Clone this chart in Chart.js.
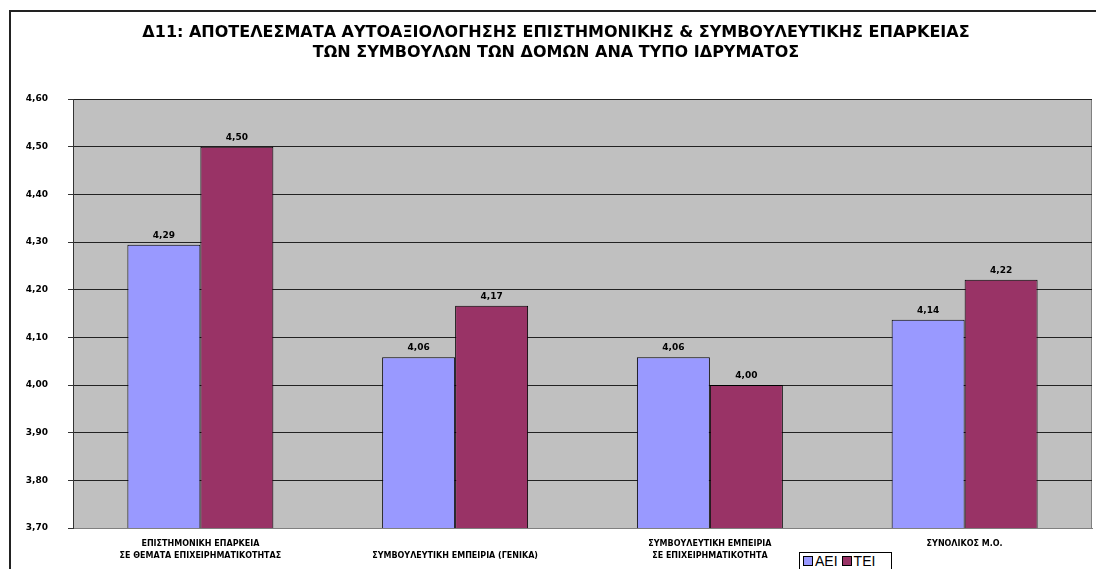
<!DOCTYPE html>
<html>
<head>
<meta charset="utf-8">
<script src="https://cdn.jsdelivr.net/npm/chart.js@4/dist/chart.umd.min.js"></script>
<style>
  html, body { margin: 0; padding: 0; background: #fff; overflow: hidden; }
  #wrap { position: relative; width: 1096px; height: 569px; overflow: hidden; }
  #frame { position: absolute; left: 9px; top: 10px; width: 1200px; height: 700px; border: 2px solid #222; box-sizing: border-box; }
  #chart { position: absolute; left: 20px; top: 0; }
  #legend { position: absolute; left: 799px; top: 552px; width: 93px; height: 30px; border: 1px solid #000; background: #fff;
            font-family: "Liberation Sans", Arial, sans-serif; font-size: 14px; box-sizing: border-box; padding: 0 0 0 3px; }
  #legend span.sw { display: inline-block; width: 8px; height: 8px; border: 1px solid #000; margin-right: 2px; }
  #legend span.item { margin-right: 4px; }
</style>
</head>
<body>
<div id="wrap">
  <div id="frame"></div>
  <canvas id="chart" width="1076" height="569"></canvas>
  <div id="legend"></div>
</div>
<script>
var categories = [
    ['ΕΠΙΣΤΗΜΟΝΙΚΗ ΕΠΑΡΚΕΙΑ', 'ΣΕ ΘΕΜΑΤΑ ΕΠΙΧΕΙΡΗΜΑΤΙΚΟΤΗΤΑΣ'],
    ['', 'ΣΥΜΒΟΥΛΕΥΤΙΚΗ ΕΜΠΕΙΡΙΑ (ΓΕΝΙΚΑ)'],
    ['ΣΥΜΒΟΥΛΕΥΤΙΚΗ ΕΜΠΕΙΡΙΑ', 'ΣΕ ΕΠΙΧΕΙΡΗΜΑΤΙΚΟΤΗΤΑ'],
    'ΣΥΝΟΛΙΚΟΣ Μ.Ο.'
];
var seriesNames = ['ΑΕΙ', 'ΤΕΙ'];
var aeiValues = [4.294, 4.058, 4.058, 4.137];
var teiValues = [4.50, 4.166, 4.00, 4.221];
var seriesColors = ['#9999FF', '#993366'];
var titleLines = [
    'Δ11: ΑΠΟΤΕΛΕΣΜΑΤΑ ΑΥΤΟΑΞΙΟΛΟΓΗΣΗΣ ΕΠΙΣΤΗΜΟΝΙΚΗΣ & ΣΥΜΒΟΥΛΕΥΤΙΚΗΣ ΕΠΑΡΚΕΙΑΣ',
    'ΤΩΝ ΣΥΜΒΟΥΛΩΝ ΤΩΝ ΔΟΜΩΝ ΑΝΑ ΤΥΠΟ ΙΔΡΥΜΑΤΟΣ'
];
var yMin = 3.7, yMax = 4.6, yStep = 0.1;

function fmt(v) {
    return (Math.round(v * 100) / 100).toFixed(2).replace('.', ',');
}

// gray plot background with border
var plotBg = {
    id: 'plotBg',
    beforeDraw: function (chart) {
        var a = chart.chartArea, ctx = chart.ctx;
        ctx.save();
        ctx.fillStyle = '#C0C0C0';
        ctx.fillRect(a.left, a.top, a.right - a.left, a.bottom - a.top);
        ctx.strokeStyle = '#808080';
        ctx.lineWidth = 1;
        ctx.strokeRect(a.left + 0.5, a.top + 0.5, a.right - a.left - 1, a.bottom - a.top);
        ctx.restore();
    }
};

// value labels above bars
var valueLabels = {
    id: 'valueLabels',
    afterDatasetsDraw: function (chart) {
        var ctx = chart.ctx;
        ctx.save();
        ctx.font = 'bold 9px "DejaVu Sans", Verdana, sans-serif';
        ctx.fillStyle = '#000';
        ctx.textAlign = 'center';
        ctx.textBaseline = 'bottom';
        chart.data.datasets.forEach(function (ds, i) {
            chart.getDatasetMeta(i).data.forEach(function (bar, j) {
                ctx.fillText(fmt(ds.data[j]), bar.x, bar.y - 5);
            });
        });
        ctx.restore();
    }
};

var ctx = document.getElementById('chart').getContext('2d');
var chart = new Chart(ctx, {
    type: 'bar',
    data: {
        labels: categories,
        datasets: [
            { label: seriesNames[0], data: aeiValues, backgroundColor: seriesColors[0], borderColor: '#000', borderWidth: 1 },
            { label: seriesNames[1], data: teiValues, backgroundColor: seriesColors[1], borderColor: '#000', borderWidth: 1 }
        ]
    },
    options: {
        responsive: false,
        animation: false,
        layout: { padding: { left: 0, right: 4, top: 0, bottom: 0 } },
        datasets: { bar: { barPercentage: 1, categoryPercentage: 0.573 } },
        plugins: {
            legend: { display: false },
            tooltip: { enabled: false },
            title: {
                display: true,
                text: titleLines,
                color: '#000',
                font: { family: '"DejaVu Sans", Verdana, sans-serif', size: 16, weight: 'bold', lineHeight: 20 / 16 },
                padding: { top: 23, bottom: 36 }
            }
        },
        scales: {
            x: {
                grid: { display: false, drawTicks: false },
                border: { display: true, color: '#808080' },
                ticks: {
                    color: '#000',
                    padding: 10,
                    maxRotation: 0,
                    autoSkip: false,
                    font: { family: '"DejaVu Sans", Verdana, sans-serif', size: 8, weight: 'bold', lineHeight: 1.5 }
                },
                afterFit: function (scale) { scale.height = 41; }
            },
            y: {
                min: yMin,
                max: yMax,
                grid: { color: '#222', lineWidth: 1, tickLength: 5, tickColor: '#333' },
                border: { display: true, color: '#333' },
                ticks: {
                    stepSize: yStep,
                    color: '#000',
                    padding: 20,
                    font: { family: '"DejaVu Sans", Verdana, sans-serif', size: 9, weight: 'bold' },
                    callback: function (v) { return fmt(v); }
                },
                afterFit: function (scale) { scale.width = 53; }
            }
        }
    },
    plugins: [plotBg, valueLabels]
});

// legend box
var lg = document.getElementById('legend');
seriesNames.forEach(function (name, i) {
    var item = document.createElement('span');
    item.className = 'item';
    var sw = document.createElement('span');
    sw.className = 'sw';
    sw.style.background = seriesColors[i];
    item.appendChild(sw);
    item.appendChild(document.createTextNode(name));
    lg.appendChild(item);
});
</script>
</body>
</html>
